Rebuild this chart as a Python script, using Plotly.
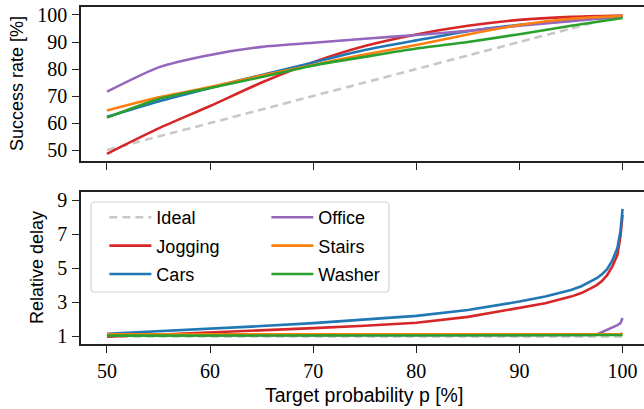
import plotly.graph_objects as go

# ---------------- data ----------------
x_top = [50, 55, 60, 65, 70, 75, 80, 85, 90, 95, 100]
ideal_top = [50, 55, 60, 65, 70, 75, 80, 85, 90, 95, 100]
jogging_top = [48.6, 58.0, 66.3, 75.0, 82.5, 88.5, 92.8, 96.0, 98.2, 99.3, 99.8]
cars_top = [62.3, 68.0, 73.0, 77.8, 82.4, 87.0, 90.6, 94.0, 96.4, 98.2, 99.5]
office_top = [71.6, 80.6, 85.2, 88.2, 89.7, 91.2, 92.6, 94.1, 96.0, 97.7, 99.5]
stairs_top = [64.6, 69.5, 73.3, 77.6, 81.5, 85.4, 88.9, 92.8, 96.3, 98.6, 99.6]
washer_top = [62.0, 68.9, 73.0, 77.0, 81.3, 84.5, 87.6, 90.0, 92.9, 96.0, 98.9]

x_bot = [50, 55, 60, 65, 70, 75, 80, 85, 90, 92.5, 95, 96, 97, 97.5, 98, 98.5, 99, 99.5, 99.8, 100]
ideal_bot = [1.0] * len(x_bot)
cars_bot = [1.16, 1.30, 1.45, 1.61, 1.78, 1.98, 2.21, 2.55, 3.05, 3.35, 3.73, 3.95, 4.25, 4.42, 4.65, 4.95, 5.45, 6.2, 7.2, 8.5]
jogging_bot = [0.98, 1.10, 1.23, 1.35, 1.49, 1.63, 1.80, 2.15, 2.66, 2.95, 3.34, 3.55, 3.85, 4.02, 4.25, 4.6, 5.1, 5.8, 6.9, 8.15]
office_bot = [1.05, 1.05, 1.05, 1.05, 1.05, 1.05, 1.05, 1.05, 1.05, 1.05, 1.05, 1.06, 1.08, 1.12, 1.25, 1.38, 1.50, 1.66, 1.78, 2.08]
stairs_bot = [1.12] * 19 + [1.2]
washer_bot = [1.05] * 19 + [1.08]

x_ticks = [50, 60, 70, 80, 90, 100]
y_top_ticks = [50, 60, 70, 80, 90, 100]
y_bot_ticks = [1, 3, 5, 7, 9]

names = ["Ideal", "Jogging", "Cars", "Office", "Stairs", "Washer"]
colors = ["#c8c8c8", "#d62728", "#1f77b4", "#9467bd", "#ff7f0e", "#2ca02c"]
tops = [ideal_top, jogging_top, cars_top, office_top, stairs_top, washer_top]
bots = [ideal_bot, jogging_bot, cars_bot, office_bot, stairs_bot, washer_bot]

# ---------------- layout geometry (pixels) ----------------
W, H = 644, 409
L, R, T, B = 81, 0, 7, 65
plot_h = H - T - B
top_dom = [(344 - 161) / plot_h, 1.0]
bot_dom = [0.0, (344 - 192) / plot_h]

fig = go.Figure()

for i, (n, c, yt, yb) in enumerate(zip(names, colors, tops, bots)):
    dash = "8px,5px" if n == "Ideal" else "solid"
    fig.add_trace(go.Scatter(
        x=x_top, y=yt, mode="lines", name=n, showlegend=False,
        line=dict(color=c, width=2.6, dash=dash, shape="spline", smoothing=0.6),
        xaxis="x", yaxis="y", legendgroup=n))
    fig.add_trace(go.Scatter(
        x=x_bot, y=yb, mode="lines", name=n, showlegend=True,
        line=dict(color=c, width=2.6, dash=dash),
        xaxis="x2", yaxis="y2", legendgroup=n,
        legend="legend" if i < 3 else "legend2"))

tickfont = dict(family="Liberation Serif", size=20, color="black")
labfont = dict(family="Liberation Sans", size=18, color="black")
xlabfont = dict(family="Liberation Sans", size=19.5, color="black")
axcol = "#222222"

xcommon = dict(range=[47.48, 102.08], tickvals=x_ticks, ticks="outside", ticklen=7,
               tickwidth=1.3, tickcolor=axcol, showline=True, linecolor=axcol,
               linewidth=1.6, mirror=True, showgrid=False, zeroline=False,
               tickfont=tickfont, ticklabelstandoff=1)
ycommon = dict(ticks="outside", ticklen=7, tickwidth=1.3, tickcolor=axcol,
               showline=True, linecolor=axcol, linewidth=1.6, mirror=False,
               showgrid=False, zeroline=False, tickfont=tickfont, ticklabelstandoff=1)

lx0 = (91 - L) / (W - L)
lx1 = (389 - L) / (W - L)
ly0 = (344 - 292) / plot_h
ly1 = (344 - 202) / plot_h
rx = 4 / (W - L)
ry = 4 / plot_h
path = (f"M{lx0+rx},{ly1} L{lx1-rx},{ly1} Q{lx1},{ly1} {lx1},{ly1-ry} "
        f"L{lx1},{ly0+ry} Q{lx1},{ly0} {lx1-rx},{ly0} L{lx0+rx},{ly0} "
        f"Q{lx0},{ly0} {lx0},{ly0+ry} L{lx0},{ly1-ry} Q{lx0},{ly1} {lx0+rx},{ly1} Z")

legcommon = dict(font=dict(family="Liberation Sans", size=18, color="black"),
                 bgcolor="rgba(0,0,0,0)", borderwidth=0, itemwidth=42,
                 tracegroupgap=2, orientation="v", xanchor="left", yanchor="top",
                 traceorder="grouped")

fig.update_layout(
    width=W, height=H,
    margin=dict(l=L, r=R, t=T, b=B, pad=0),
    paper_bgcolor="white", plot_bgcolor="white",
    xaxis=dict(xcommon, domain=[0, 1], anchor="y", showticklabels=False),
    xaxis2=dict(xcommon, domain=[0, 1], anchor="y2", matches="x"),
    yaxis=dict(ycommon, domain=top_dom, anchor="x", range=[45.93, 102.96],
               tickvals=y_top_ticks),
    yaxis2=dict(ycommon, domain=bot_dom, anchor="x2", range=[0.555, 9.49],
                tickvals=y_bot_ticks),
    legend=dict(legcommon, x=(110 - L) / (W - L) - 0.01, y=ly1 + 3 / plot_h),
    legend2=dict(legcommon, x=(272 - L) / (W - L) - 0.01, y=ly1 + 3 / plot_h),
    shapes=[dict(type="path", path=path, xref="paper", yref="paper",
                 line=dict(color="#d3d3d3", width=1.2), fillcolor="rgba(255,255,255,0.85)",
                 layer="above")],
    annotations=[
        dict(text="Success rate [%]", xref="paper", yref="paper", x=0, y=sum(top_dom) / 2,
             xshift=17 - L, textangle=-90, showarrow=False, font=labfont,
             xanchor="center", yanchor="middle"),
        dict(text="Relative delay", xref="paper", yref="paper", x=0, y=sum(bot_dom) / 2,
             xshift=37 - L, textangle=-90, showarrow=False, font=labfont,
             xanchor="center", yanchor="middle"),
        dict(text="Target probability p [%]", xref="paper", yref="paper",
             x=(364 - L) / (W - L), y=(344 - 395) / plot_h, showarrow=False,
             font=xlabfont, xanchor="center", yanchor="middle"),
    ],
)

fig.write_html("out.html")
